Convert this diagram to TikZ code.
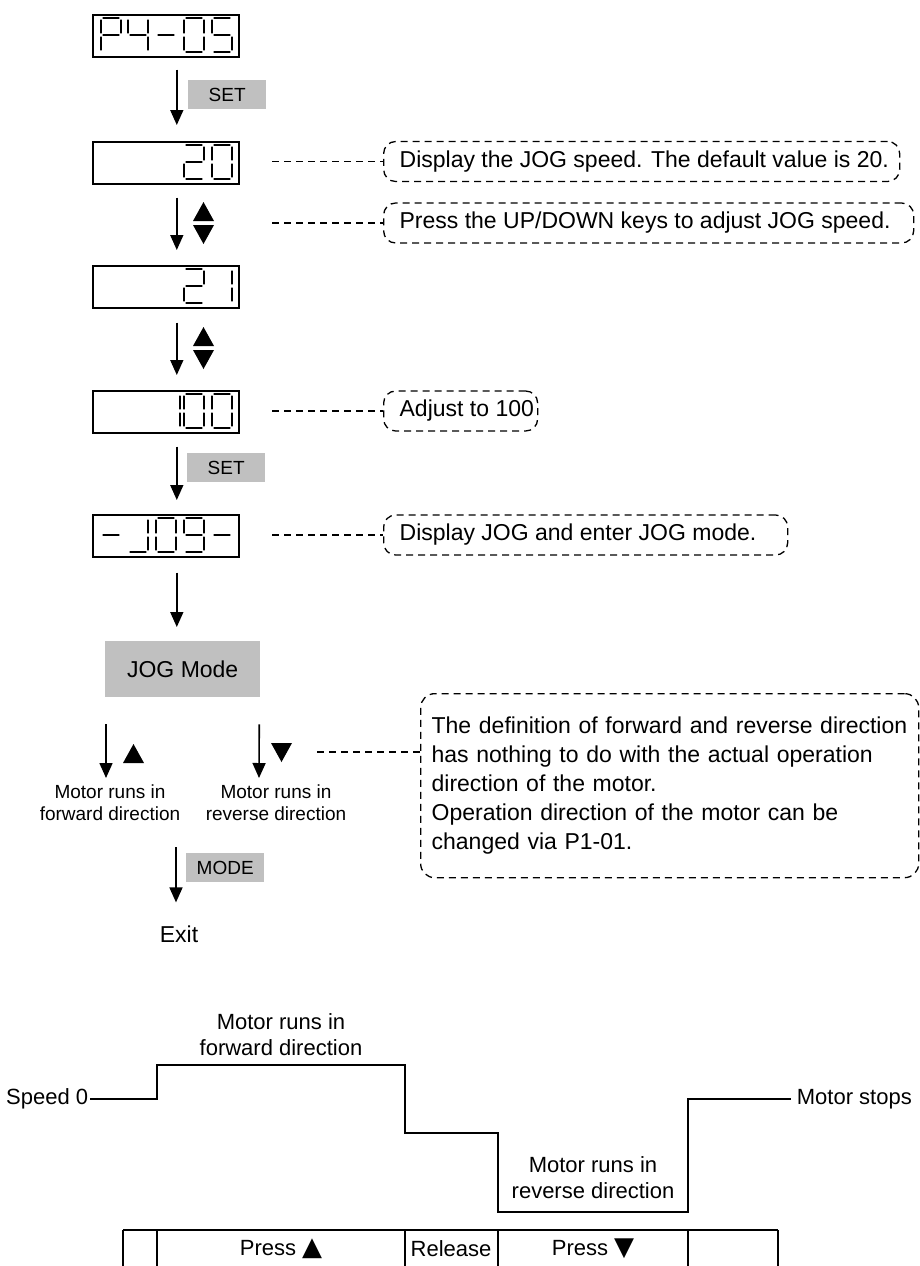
\documentclass[tikz,border=0pt]{standalone}
\usepackage{fontspec}
\setmainfont{Liberation Sans}
\newfontfamily\symfont{DejaVu Sans}
\usetikzlibrary{arrows.meta,calc}
\definecolor{graybg}{RGB}{192,192,192}
\newcommand\dsega{\draw[seg] (2.5,0) -- (17.5,0);}
\newcommand\dsegb{\draw[seg] (20,2.5) -- (20,14.5);}
\newcommand\dsegc{\draw[seg] (20,19.5) -- (20,31.5);}
\newcommand\dsegd{\draw[seg] (2.5,34) -- (17.5,34);}
\newcommand\dsege{\draw[seg] (0,19.5) -- (0,31.5);}
\newcommand\dsegf{\draw[seg] (0,2.5) -- (0,14.5);}
\newcommand\dsegg{\draw[seg] (2.5,17) -- (17.5,17);}
\newcommand\dgt[3]{\begin{scope}[shift={(#1,#2)}]\foreach \sg in {#3}{\csname dseg\sg\endcsname}\end{scope}}
\newcommand\uptri[2]{\fill (#1,#2+19) -- ++(21,0) -- ++(-10.5,-19) -- cycle;}
\newcommand\dntri[2]{\fill (#1,#2) -- ++(21,0) -- ++(-10.5,19) -- cycle;}
\begin{document}
\begin{tikzpicture}[x=1pt,y=-1pt,
  every node/.style={font=\fontsize{23}{28}\selectfont},
  disp/.style={draw, line width=1.6pt, minimum width=146pt, minimum height=42pt, inner sep=0pt, anchor=north west},
  graylbl/.style={fill=graybg, minimum width=78pt, minimum height=29pt, inner sep=0pt, font=\fontsize{19}{22}\selectfont, anchor=north west},
  arr/.style={-{Triangle[length=15pt,width=13pt]}, line width=1.6pt},
  callout/.style={draw, dash pattern=on 7pt off 5pt, line width=1.3pt, rounded corners=12pt, inner xsep=16pt, inner ysep=0pt, minimum height=40pt, anchor=west},
  leader/.style={dash pattern=on 7pt off 5pt, line width=1.3pt},
  seg/.style={line width=2.7pt, line cap=round},
  small/.style={font=\fontsize{19}{22}\selectfont, align=center, inner sep=0pt},
  btxt/.style={font=\fontsize{22}{26}\selectfont, inner sep=0pt},
  wave/.style={line width=1.6pt},
  tbl/.style={line width=1.2pt}]
\useasboundingbox (0,0) rectangle (920,1266);
% display boxes
\node[disp] (b1) at (92,14) {};
\node[disp] (b2) at (92,141) {};
\node[disp] (b3) at (92,265) {};
\node[disp] (b4) at (92,390) {};
\node[disp] (b5) at (92,514) {};
% digits
\dgt{101}{18}{a,b,e,f,g}\dgt{128}{18}{b,c,f,g}\dgt{156}{18}{g}\dgt{184}{18}{a,b,c,d,e,f}\dgt{212}{18}{a,c,d,f,g}
\dgt{184}{145}{a,b,d,e,g}\dgt{212}{145}{a,b,c,d,e,f}
\dgt{184}{269}{a,b,d,e,g}\dgt{212}{269}{b,c}
\dgt{160}{394}{b,c}\dgt{184}{394}{a,b,c,d,e,f}\dgt{212}{394}{a,b,c,d,e,f}
\dgt{101}{518}{g}\dgt{128}{518}{b,c,d}\dgt{156}{518}{a,b,c,d,e,f}\dgt{184}{518}{a,b,c,d,f,g}\dgt{212}{518}{g}
% gray labels
\node[graylbl] (set1) at (188,80) {SET};
\node[graylbl] (set2) at (187,453) {SET};
\node[fill=graybg, minimum width=155pt, minimum height=56pt, inner sep=0pt, anchor=north west] (jog) at (105,641) {JOG Mode};
\node[graylbl] (mode) at (186,853) {MODE};
% main arrows
\draw[arr, shorten <=12pt, shorten >=16pt] ([xshift=11pt]b1.south) -- ([xshift=11pt]b2.north);
\draw[arr, shorten <=13pt, shorten >=15pt] ([xshift=11pt]b2.south) -- ([xshift=11pt]b3.north);
\draw[arr, shorten <=14pt, shorten >=15pt] ([xshift=11pt]b3.south) -- ([xshift=11pt]b4.north);
\draw[arr, shorten <=13pt, shorten >=14pt] ([xshift=11pt]b4.south) -- ([xshift=11pt]b5.north);
\draw[arr, shorten <=15pt, shorten >=14pt] ([xshift=11pt]b5.south) -- ([xshift=11pt]jog.north west -| b5.south);
% up/down keys
\uptri{193}{202}\dntri{193}{225}
\uptri{193}{327}\dntri{193}{350}
% forward / reverse
\coordinate (fa) at (106,778);
\coordinate (ra) at (259,778);
\draw[arr, shorten <=27pt] ([xshift=1pt]jog.south west) -- (fa);
\draw[arr, shorten <=27pt] ([xshift=-1pt]jog.south east) -- (ra);
\uptri{123}{744}
\dntri{271}{743}
\node[small] (fwd) at (110,803) {Motor runs in\\forward direction};
\node[small] (rev) at (276,803) {Motor runs in\\reverse direction};
% exit
\coordinate (ms) at (176,847);
\node[inner sep=0pt] (exitn) at (179,934) {Exit};
\draw[arr, shorten >=23pt] (ms) -- (ms |- exitn.north);
% callouts
\node[callout] (c1) at (383,161.5) {\makebox[484pt][l]{Display the JOG speed. The default value is 20.}};
\node[callout] (c2) at (383,223) {\makebox[498pt][l]{Press the UP/DOWN keys to adjust JOG speed.}};
\node[callout] (c3) at (383,411) {\makebox[122pt][l]{Adjust to 100}};
\node[callout] (c4) at (383,535) {\makebox[372pt][l]{Display JOG and enter JOG mode.}};
\node[draw, dash pattern=on 7pt off 5pt, line width=1.3pt, rounded corners=14pt, anchor=north west,
  minimum width=498pt, minimum height=184pt, inner xsep=11pt, inner ysep=0pt, text width=476pt, align=left,
  font=\fontsize{23}{29}\selectfont] (c5) at (420,693)
  {The definition of forward and reverse direction\\has nothing to do with the actual operation\\direction of the motor.\\Operation direction of the motor can be\\changed via P1-01.};
\coordinate (l1) at (272,161.5);
\coordinate (l2) at (272,223);
\coordinate (l3) at (272,411);
\coordinate (l4) at (272,535);
\coordinate (l5) at (317,752);
\draw[leader] (l1) -- (c1.west);
\draw[leader] (l2) -- (c2.west);
\draw[leader] (l3) -- (c3.west);
\draw[leader] (l4) -- (c4.west);
\draw[leader] (l5) -- (l5 -| c5.west);
% waveform
\node[btxt, align=center] (fwdtxt) at (281,1035) {Motor runs in\\forward direction};
\node[btxt, align=center] (revtxt) at (593,1178) {Motor runs in\\reverse direction};
\node[btxt, anchor=west] (sp0) at (6,1099) {Speed 0};
\node[btxt, anchor=east] (mst) at (912,1099) {Motor stops};
\draw[wave] ([xshift=2pt]sp0.east) -- (157,1099) -- (157,1065) -- (405,1065) -- (405,1133) -- (498,1133) -- (498,1212) -- (688,1212) -- (688,1099) -- ([xshift=-6pt]mst.west);
% table
\draw[tbl] (123,1230) -- (778,1230);
\foreach \tx in {123,157,405,498,688,778}{\draw[tbl] (\tx,1230) -- (\tx,1270);}
\node[btxt] (t1) at (281,1249) {Press {\symfont\fontsize{26}{26}\selectfont ▲}};
\node[btxt] (t2) at (451,1249) {Release};
\node[btxt] (t3) at (593,1249) {Press {\symfont\fontsize{26}{26}\selectfont ▼}};
\end{tikzpicture}
\end{document}
